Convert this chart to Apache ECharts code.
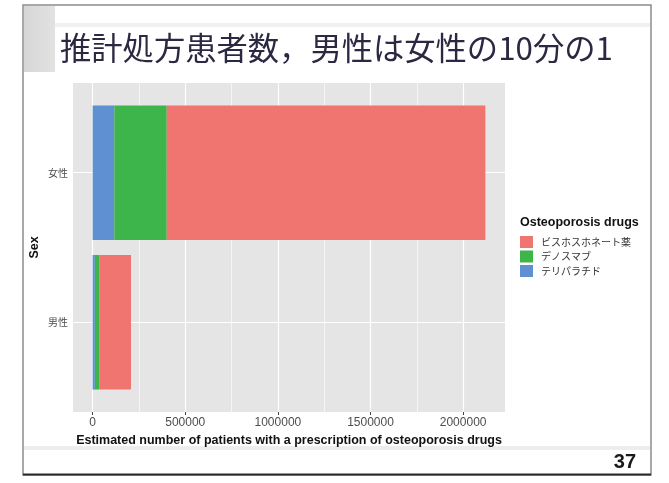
<!DOCTYPE html>
<html>
<head>
<meta charset="utf-8">
<script src="https://cdn.jsdelivr.net/npm/echarts@6/dist/echarts.min.js"></script>
<style>
  html, body { margin: 0; padding: 0; background: #ffffff; }
  #chart { width: 669px; height: 483px; }
</style>
</head>
<body>
<div id="chart"></div>
<script>
// Estimated number of patients with an osteoporosis prescription, by sex
const sexes = ['男性', '女性'];                 // bottom to top
const drugs = ['テリパラチド', 'デノスマブ', 'ビスホスホネート薬']; // stacking order from 0
const legendOrder = ['ビスホスホネート薬', 'デノスマブ', 'テリパラチド'];
const teriparatide = [12000, 117000];
const denosumab = [23000, 283000];
const bisphosphonate = [172000, 1720000];
const majorTicks = [0, 500000, 1000000, 1500000, 2000000];
const minorTicks = [250000, 750000, 1250000, 1750000];

const seriesValues = [teriparatide, denosumab, bisphosphonate];
const drugColors = {
  'ビスホスホネート薬': '#F07470',
  'デノスマブ': '#3DB54B',
  'テリパラチド': '#5E90D2'
};

// x range padded 5% on both sides of the stacked extent
const totals = sexes.map((_, i) => seriesValues.reduce((s, arr) => s + arr[i], 0));
const maxTotal = Math.max(...totals);
const xMin = -0.05 * maxTotal;
const xMax = 1.05 * maxTotal;

const JP = '"Noto Sans CJK JP", "Noto Sans", sans-serif';
const SANS = '"Liberation Sans", Arial, sans-serif';

const panel = { left: 73, top: 83, width: 432, height: 329 };
const bandInset = panel.height * 0.1 / 2.2;   // discrete axis padding (0.6 of a unit, minus half band)

const chart = echarts.init(document.getElementById('chart'), null, { renderer: 'canvas' });

const gridLine = (w) => ({ color: '#ffffff', width: w, type: 'solid' });

const series = drugs.map((name, k) => ({
  name: name,
  type: 'bar',
  stack: 'total',
  xAxisIndex: 1,
  yAxisIndex: 1,
  barWidth: '90%',
  z: 3,
  itemStyle: { color: drugColors[name] },
  data: seriesValues[k]
}));

// panel grid lines (vertical, spanning the whole panel)
series.push({
  type: 'line',
  xAxisIndex: 0,
  yAxisIndex: 0,
  data: [],
  silent: true,
  markLine: {
    silent: true,
    symbol: 'none',
    z: 1,
    label: { show: false },
    emphasis: { disabled: true },
    data: majorTicks.map(v => ({ xAxis: v, lineStyle: gridLine(1.2) }))
      .concat(minorTicks.map(v => ({ xAxis: v, lineStyle: gridLine(0.6) })))
  }
});
// horizontal grid lines at the category centres
series.push({
  type: 'line',
  xAxisIndex: 1,
  yAxisIndex: 1,
  data: [],
  silent: true,
  markLine: {
    silent: true,
    symbol: 'none',
    z: 1,
    label: { show: false },
    emphasis: { disabled: true },
    data: sexes.map(s => ({ yAxis: s, lineStyle: gridLine(1.2) }))
  }
});

const option = {
  animation: false,
  backgroundColor: '#ffffff',
  grid: [
    { left: panel.left, top: panel.top, width: panel.width, height: panel.height,
      show: true, backgroundColor: '#E5E5E5', borderWidth: 0, containLabel: false },
    { left: panel.left, top: panel.top + bandInset, width: panel.width,
      height: panel.height - 2 * bandInset, containLabel: false }
  ],
  xAxis: [
    {
      gridIndex: 0, type: 'value', min: xMin, max: xMax,
      axisLine: { show: false },
      axisTick: { show: true, customValues: majorTicks, length: 3,
                  lineStyle: { color: '#444444', width: 1 } },
      axisLabel: { customValues: majorTicks, color: '#4D4D4D', fontSize: 12,
                   fontFamily: SANS, margin: 5, formatter: v => String(v) },
      splitLine: { show: false },
      name: 'Estimated number of patients with a prescription of osteoporosis drugs',
      nameLocation: 'middle', nameGap: 19,
      nameTextStyle: { color: '#111111', fontSize: 12.5, fontWeight: 'bold', fontFamily: SANS }
    },
    { gridIndex: 1, type: 'value', min: xMin, max: xMax, show: false }
  ],
  yAxis: [
    { gridIndex: 0, type: 'value', min: 0, max: 1, show: false },
    {
      gridIndex: 1, type: 'category', data: sexes,
      axisLine: { show: false },
      axisTick: { show: true, alignWithLabel: true, length: 4,
                  lineStyle: { color: '#444444', width: 1 } },
      axisLabel: { color: '#4D4D4D', fontSize: 10, fontFamily: JP, margin: 5 },
      splitLine: { show: false },
      name: 'Sex', nameLocation: 'middle', nameGap: 32, nameRotate: 90,
      nameMoveOverlap: false,
      nameTextStyle: { color: '#111111', fontSize: 12.5, fontWeight: 'bold', fontFamily: SANS }
    }
  ],
  legend: {
    orient: 'vertical',
    left: 520, top: 236, padding: 0,
    itemWidth: 13, itemHeight: 12, itemGap: 2.5,
    icon: 'rect',
    data: legendOrder,
    selectedMode: false,
    textStyle: { color: '#333333', fontSize: 10, fontFamily: JP, padding: [0, 0, 0, 3] }
  },
  graphic: [
    // slide frame
    { type: 'rect', z: -5, silent: true,
      shape: { x: 23, y: 5, width: 628, height: 470 },
      style: { fill: 'none', stroke: '#8c8c8c', lineWidth: 1.5 } },
    { type: 'line', z: -5, silent: true,
      shape: { x1: 23, y1: 474.5, x2: 651, y2: 474.5 },
      style: { stroke: '#2a2a2a', lineWidth: 2 } },
    // header accents
    { type: 'rect', z: -6, silent: true,
      shape: { x: 24, y: 6, width: 31, height: 66 },
      style: { fill: new echarts.graphic.LinearGradient(0, 0, 1, 0, [
        { offset: 0, color: '#d6d6d6' }, { offset: 1, color: '#e2e2e2' }]) } },
    { type: 'rect', z: -6, silent: true,
      shape: { x: 55, y: 23, width: 595, height: 4 },
      style: { fill: '#f0f0f0' } },
    // footer rule
    { type: 'rect', z: -6, silent: true,
      shape: { x: 24, y: 446, width: 626, height: 4 },
      style: { fill: '#ededed' } },
    // slide title
    { type: 'text', silent: true, x: 60, y: 48,
      style: { text: '推計処方患者数，男性は女性の10分の1', fill: '#2b2842',
               font: '31.3px ' + JP, textVerticalAlign: 'middle', textAlign: 'left' } },
    // legend heading
    { type: 'text', silent: true, x: 520, y: 223,
      style: { text: 'Osteoporosis drugs', fill: '#111111',
               font: 'bold 12.5px ' + SANS, textVerticalAlign: 'middle', textAlign: 'left' } },
    // page number
    { type: 'text', silent: true, x: 636, y: 462,
      style: { text: '37', fill: '#1a1a1a',
               font: 'bold 20px ' + SANS, textVerticalAlign: 'middle', textAlign: 'right' } }
  ],
  series: series
};

chart.setOption(option);
</script>
</body>
</html>
